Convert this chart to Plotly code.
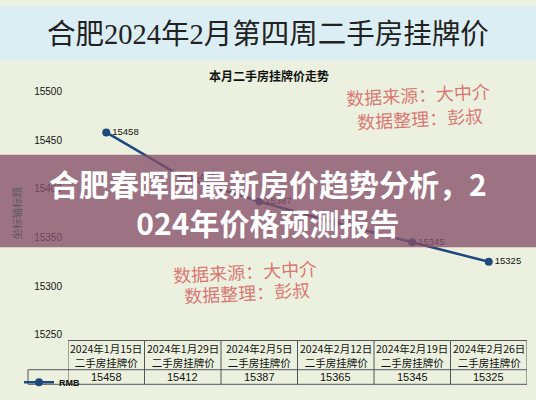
import plotly.graph_objects as go

# 数据
日期 = ["2024年1月15日", "2024年1月29日", "2024年2月5日",
      "2024年2月12日", "2024年2月19日", "2024年2月26日"]
挂牌价 = [15458, 15412, 15387, 15365, 15345, 15325]
系列名 = "RMB"
表头后缀 = "二手房挂牌价"

大标题 = "合肥2024年2月第四周二手房挂牌价"
图表标题 = "本月二手房挂牌价走势"
纵轴标题 = "坐标轴标题"
水印 = ["数据来源：大中介", "数据整理：彭叔"]
横幅文字 = ["合肥春晖园最新房价趋势分析，2", "024年价格预测报告"]

W, H = 536, 400
CJK = "Noto Sans CJK SC"
背景 = "#EBF1DE"
线色 = "#1F497D"
表线 = "#555555"

# 绘图区 / 表格位置（像素）
轴左, 轴右 = 68, 527
表左, 表顶, 表中, 表底 = 28, 344, 374, 389


def px_x(v):
    return v / W


def px_y(v):
    return 1 - v / H


def 注释(text, cx, cy, font, xref="paper", **kw):
    return dict(text=text, x=cx if xref == "x" else px_x(cx), y=px_y(cy), xref=xref, yref="paper",
                xanchor="center", yanchor="middle", showarrow=False, font=font, **kw)


fig = go.Figure()

fig.add_trace(go.Scatter(
    x=日期,
    y=挂牌价,
    mode="lines+markers+text",
    text=[str(v) for v in 挂牌价],
    textposition="middle right",
    textfont=dict(family="Arial", size=9.5, color="#111"),
    line=dict(color=线色, width=2.5),
    marker=dict(color=线色, size=8),
    name=f"<b>{系列名}</b>",
    cliponaxis=False,
))

annotations = [
    注释(大标题, 268, 29, dict(family="Liberation Serif, " + CJK, size=28.5, color="#222")),
    注释(f"<b>{图表标题}</b>", 269, 71, dict(family=CJK, size=12, color="#111")),
]
水印位置 = [((418, 91), (420, 115)), ((245, 272), (247, 294))]
for 组 in 水印位置:
    for t, (cx, cy) in zip(水印, 组):
        annotations.append(注释(t, cx, cy, dict(family=CJK, size=18, color="rgba(214,96,96,0.85)"),
                              textangle=-3))
annotations.append(注释("<br>".join(横幅文字), 268, 202,
                      dict(family=CJK, size=30, color="white", weight="bold"), align="center"))

# 数据表：表头与数值按分类轴定位
for d, v in zip(日期, 挂牌价):
    annotations.append(注释(f"{d}<br>{表头后缀}", d, (表顶 + 表中) / 2 + 0.5,
                          dict(family=CJK, size=10.5, color="#111"), xref="x"))
    annotations.append(注释(str(v), d, (表中 + 表底) / 2 + 0.5,
                          dict(family="Arial", size=11, color="#111"), xref="x"))

shapes = [
    dict(type="rect", xref="paper", yref="paper", x0=0, x1=1,
         y0=px_y(56), y1=1, fillcolor="#DBEEF3", line=dict(width=0), layer="below"),
    dict(type="rect", xref="paper", yref="paper", x0=0, x1=1,
         y0=px_y(248), y1=px_y(153), fillcolor="rgba(135,80,106,0.78)",
         line=dict(width=0), layer="above"),
]
# 表格边框
for i in range(len(日期) + 1):
    shapes.append(dict(type="line", xref="x", yref="paper", x0=i - 0.5, x1=i - 0.5,
                       y0=px_y(表底), y1=px_y(表顶), line=dict(color=表线, width=1)))
shapes.append(dict(type="line", xref="paper", yref="paper", x0=px_x(表左), x1=px_x(表左),
                   y0=px_y(表底), y1=px_y(表中), line=dict(color=表线, width=1)))
shapes.append(dict(type="line", xref="paper", yref="paper", x0=px_x(轴左), x1=px_x(轴右),
                   y0=px_y(表顶), y1=px_y(表顶), line=dict(color=表线, width=1)))
for yy in (表中, 表底):
    shapes.append(dict(type="line", xref="paper", yref="paper", x0=px_x(表左), x1=px_x(轴右),
                       y0=px_y(yy), y1=px_y(yy), line=dict(color=表线, width=1)))

fig.update_layout(
    width=W,
    height=H,
    margin=dict(l=0, r=0, t=0, b=0),
    paper_bgcolor=背景,
    plot_bgcolor=背景,
    showlegend=True,
    legend=dict(
        x=px_x(19), y=px_y(387), xanchor="left", yanchor="middle",
        bgcolor="rgba(0,0,0,0)", itemwidth=30, tracegroupgap=0,
        font=dict(family="Arial", size=9, color="#111"),
    ),
    xaxis=dict(
        domain=[px_x(轴左), px_x(轴右)],
        range=[-0.5, len(日期) - 0.5],
        showticklabels=False, showgrid=False, zeroline=False, showline=False,
    ),
    yaxis=dict(
        domain=[px_y(338), px_y(88)],
        range=[15250, 15500],
        dtick=50,
        tickformat="d",
        showgrid=False, zeroline=False, showline=False,
        ticklabelstandoff=5,
        tickfont=dict(family="Arial", size=10, color="#111"),
        title=dict(text=纵轴标题, standoff=10,
                   font=dict(family=CJK, size=10.5, color="#595959")),
    ),
    shapes=shapes,
    annotations=annotations,
)

fig.write_html("out.html", config={"displayModeBar": False},
               post_script="document.body.style.margin='0';")
